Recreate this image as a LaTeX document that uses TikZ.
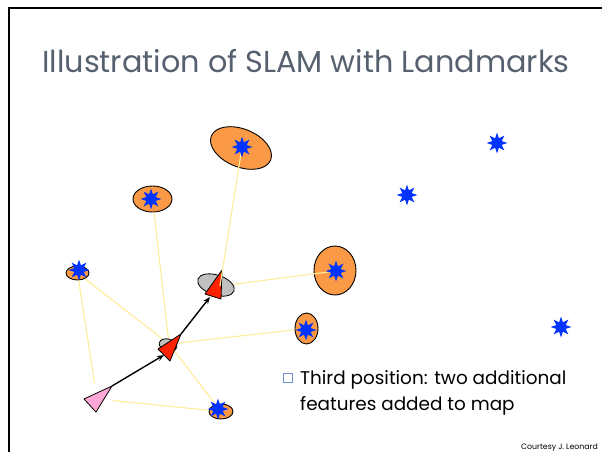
\documentclass[tikz,border=0pt]{standalone}
\usepackage{fontspec}
\setmainfont{Poppins}
\usetikzlibrary{shapes.geometric,arrows.meta}
\definecolor{titlegray}{HTML}{56606E}
\definecolor{ellorange}{HTML}{FB9A46}
\definecolor{starblue}{HTML}{0033FF}
\definecolor{posered}{HTML}{FF2200}
\definecolor{posepink}{HTML}{FFA8D8}
\definecolor{posegray}{HTML}{C0C0C0}
\definecolor{rangeyellow}{HTML}{FFEC98}
\definecolor{bulletblue}{HTML}{7090D0}
\begin{document}
\begin{tikzpicture}[x=1pt,y=-1pt,
  uncert/.style={ellipse, draw=black, line width=0.9pt, fill=ellorange, inner sep=0pt},
  lmstar/.style={star, star points=8, star point ratio=2.1, fill=starblue, inner sep=0pt, minimum size=21pt},
  posecov/.style={ellipse, draw=black, line width=0.8pt, fill=posegray, inner sep=0pt},
  posetri/.style={draw=black, line width=0.8pt, line join=round},
  rangeline/.style={rangeyellow, line width=1.1pt},
  motion/.style={black, line width=1.4pt, -{Stealth[length=7pt,width=5.5pt]}}]
\useasboundingbox (0,0) rectangle (602,452);

% slide frame
\draw[line width=2.5pt] (9,452) -- (9,8) -- (602,8);

% title
\node[anchor=base, text=titlegray, font=\fontsize{30.3}{35}\selectfont] (title) at (306,72)
  {Illustration of SLAM with Landmarks};

% landmark uncertainty ellipses
\node[uncert, minimum width=64pt, minimum height=38pt, rotate=-22] (e1) at (241,148) {};
\node[uncert, minimum width=39pt, minimum height=26pt] (e2) at (152.5,199) {};
\node[uncert, minimum width=23pt, minimum height=14pt] (e3) at (77.5,273) {};
\node[uncert, minimum width=42pt, minimum height=49pt] (e4) at (335,270.5) {};
\node[uncert, minimum width=23pt, minimum height=31pt] (e5) at (306.5,328.5) {};
\node[uncert, minimum width=24pt, minimum height=15pt] (e6) at (221,411.5) {};

% landmark positions
\coordinate (c1) at (242,147);
\coordinate (c4) at (336,271);

% robot poses
\node[circle, minimum size=32pt, inner sep=0pt] (p1) at (97,399) {};
\coordinate (p2) at (169,344);
\coordinate (p3) at (220,286);

% range measurements
\draw[rangeline] (p1) -- (e3);
\draw[rangeline] (p1) -- (e6);
\draw[rangeline] (p2) -- (e3);
\draw[rangeline] (p2) -- (e2);
\draw[rangeline] (p2) -- (e5);
\draw[rangeline] (p2) -- (e6);
\draw[rangeline] (p3) -- (c4);

% pose covariances
\node[posecov, minimum width=18pt, minimum height=12pt, rotate=-15] (g2) at (168,345) {};
\node[posecov, minimum width=38pt, minimum height=20pt, rotate=-18] (g3) at (216,285) {};

% first pose (pink)
\coordinate (k1) at (84,399);
\coordinate (k2) at (112,386);
\coordinate (k3) at (96,412);
\filldraw[posetri, fill=posepink] (k1) -- (k2) -- (k3) -- cycle;

% second pose (red)
\coordinate (r1) at (158,349);
\coordinate (r2) at (181,334);
\coordinate (r3) at (170,361);
\filldraw[posetri, fill=posered] (r1) -- (r2) -- (r3) -- cycle;

% third pose (red)
\coordinate (q1) at (205,294);
\coordinate (q2) at (222,270);
\coordinate (q3) at (221,299);
\filldraw[posetri, fill=posered] (q1) -- (q2) -- (q3) -- cycle;

\draw[rangeline] (p3) -- (c1);

% odometry
\coordinate (m1) at (164,355);
\coordinate (m2) at (210,297);
\draw[motion] (k2) -- (m1);
\draw[motion] (r2) -- (m2);

% landmarks
\node[lmstar] (s1) at (c1) {};
\node[lmstar] (s2) at (151,199) {};
\node[lmstar] (s3) at (79,270) {};
\node[lmstar] (s4) at (c4) {};
\node[lmstar] (s5) at (306,330) {};
\node[lmstar] (s6) at (218,409) {};
\node[lmstar] (f1) at (497,143) {};
\node[lmstar] (f2) at (407,195) {};
\node[lmstar] (f3) at (561,327) {};

% caption
\node[draw=bulletblue, line width=0.7pt, minimum size=9pt, inner sep=0pt] (bul) at (288,377.5) {};
\node[anchor=base west, inner sep=0pt, font=\fontsize{18.4}{24}\selectfont] (t1) at (300,384)
  {Third position: two additional};
\node[anchor=base west, inner sep=0pt, font=\fontsize{18.4}{24}\selectfont] (t2) at (300,410)
  {features added to map};
\node[anchor=base east, inner sep=0pt, font=\fontsize{7.8}{9}\selectfont] (credit) at (598,449)
  {Courtesy J. Leonard};
\end{tikzpicture}
\end{document}
